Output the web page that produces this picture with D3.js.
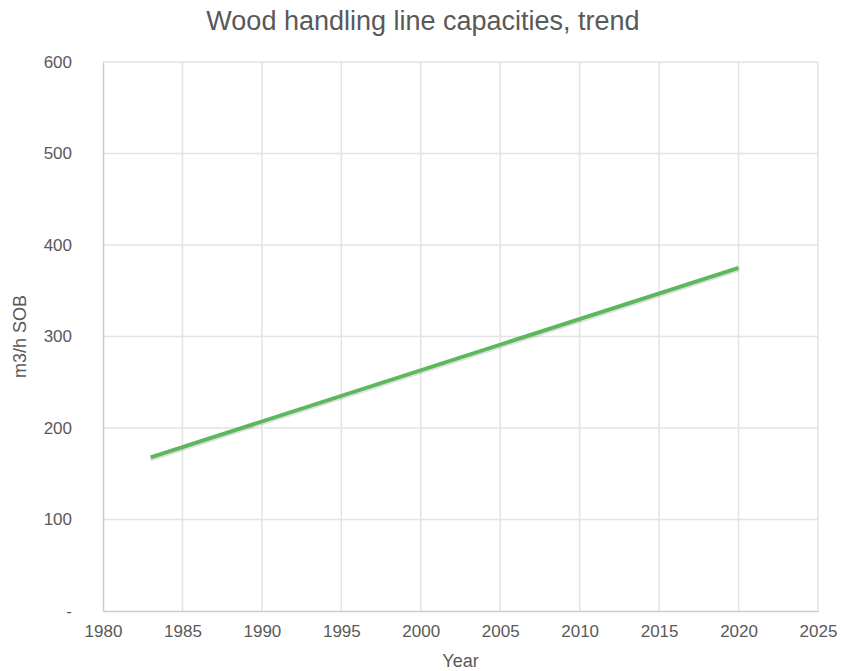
<!DOCTYPE html>
<html><head><meta charset="utf-8">
<script src="https://cdn.jsdelivr.net/npm/d3@7"></script>
<style>body{margin:0;background:#fff}</style>
</head><body><svg id="c" width="843" height="671"></svg>
<script>
const years = [1983, 2020];
const capacities = [168, 375];
const xTicks = [1980,1985,1990,1995,2000,2005,2010,2015,2020,2025];
const yTicks = [0,100,200,300,400,500,600];
const title = "Wood handling line capacities, trend";
const xTitle = "Year";
const yTitle = "m3/h SOB";

const svg = d3.select("#c");
const m = {l:103, r:25, t:62, b:60};
const W = 843, H = 671;
const x = d3.scaleLinear().domain([1980,2025]).range([m.l, W-m.r]);
const y = d3.scaleLinear().domain([0,600]).range([H-m.b, m.t]);
const font = "Liberation Sans, Arial, sans-serif";
const txt = "#595959";

// grid
svg.append("g").selectAll("line").data(yTicks.slice(1)).join("line")
  .attr("x1", m.l).attr("x2", W-m.r).attr("y1", d=>y(d)).attr("y2", d=>y(d))
  .attr("stroke", "#e3e3e3").attr("stroke-width", 1.5);
svg.append("g").selectAll("line").data(xTicks.slice(1)).join("line")
  .attr("y1", y(600)).attr("y2", y(0)).attr("x1", d=>x(d)).attr("x2", d=>x(d))
  .attr("stroke", "#e3e3e3").attr("stroke-width", 1.5);

// axes
const xa = svg.append("g").attr("transform", `translate(0,${y(0)})`)
  .call(d3.axisBottom(x).tickValues(xTicks).tickFormat(d3.format("d")).tickSize(0).tickPadding(14));
const ya = svg.append("g").attr("transform", `translate(${m.l},0)`)
  .call(d3.axisLeft(y).tickValues(yTicks).tickFormat(d => d===0 ? "-" : d).tickSize(0).tickPadding(31));
[xa, ya].forEach(a => {
  a.select(".domain").attr("stroke", "#cccccc").attr("stroke-width", 1.5);
  a.selectAll("text").attr("fill", txt).style("font-family", font).style("font-size", "17px");
});

// line with subtle shadow
const data = years.map((yr,i)=>({yr, v:capacities[i]}));
const line = d3.line().x(d=>x(d.yr)).y(d=>y(d.v));
svg.append("path").datum(data).attr("d", line)
  .attr("transform","translate(0,2)")
  .attr("stroke","#000").attr("stroke-opacity",0.12).attr("stroke-width",4).attr("fill","none");
svg.append("path").datum(data).attr("d", line)
  .attr("stroke","#5cb85c").attr("stroke-width",4).attr("fill","none").attr("stroke-linecap","butt");

// titles
svg.append("text").attr("x", 423).attr("y", 30).attr("text-anchor","middle")
  .attr("fill", txt).style("font-family", font).style("font-size","27px").text(title);
svg.append("text").attr("x", x(2002.5)).attr("y", 667).attr("text-anchor","middle")
  .attr("fill", txt).style("font-family", font).style("font-size","18px").text(xTitle);
svg.append("text").attr("transform", `translate(26,${y(300)}) rotate(-90)`).attr("text-anchor","middle")
  .attr("fill", txt).style("font-family", font).style("font-size","18px").text(yTitle);
</script></body></html>
